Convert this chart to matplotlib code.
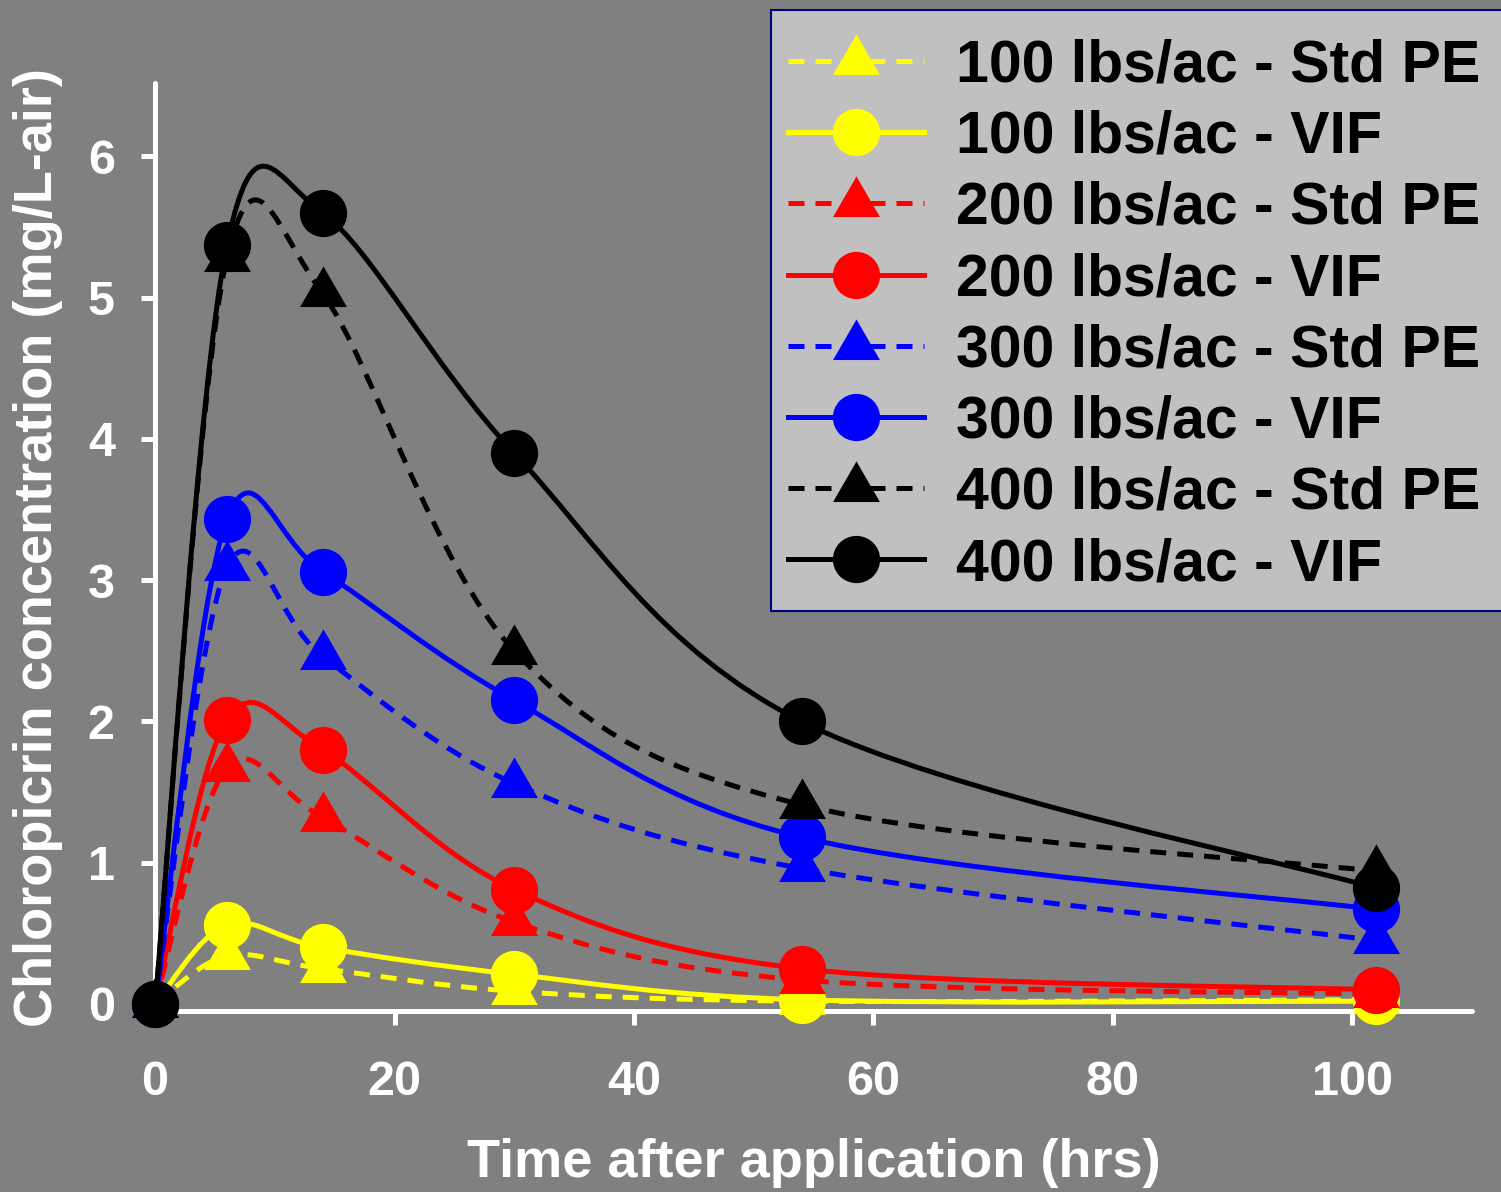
import numpy as np
import matplotlib
matplotlib.use("Agg")
from matplotlib import pyplot as plt
from matplotlib.path import Path
from matplotlib.patches import PathPatch, Rectangle
from matplotlib.lines import Line2D

# sampling times (hrs)
hours = [0, 6, 14, 30, 54, 102]

# chloropicrin concentration (mg/L-air)
std_100 = [0, 0.34, 0.25, 0.09, 0.02, 0.03]
vif_100 = [0, 0.56, 0.40, 0.21, 0.03, 0.02]
std_200 = [0, 1.67, 1.32, 0.58, 0.17, 0.07]
vif_200 = [0, 2.01, 1.80, 0.81, 0.25, 0.10]
std_300 = [0, 3.09, 2.46, 1.56, 0.96, 0.45]
vif_300 = [0, 3.43, 3.06, 2.15, 1.18, 0.67]
std_400 = [0, 5.28, 5.03, 2.50, 1.41, 0.94]
vif_400 = [0, 5.37, 5.60, 3.90, 2.00, 0.82]

labels = ["100 lbs/ac - Std PE", "100 lbs/ac - VIF",
          "200 lbs/ac - Std PE", "200 lbs/ac - VIF",
          "300 lbs/ac - Std PE", "300 lbs/ac - VIF",
          "400 lbs/ac - Std PE", "400 lbs/ac - VIF"]
series = [std_100, vif_100, std_200, vif_200, std_300, vif_300, std_400, vif_400]
colors = ["#ffff00", "#ffff00", "#ff0000", "#ff0000",
          "#0000ff", "#0000ff", "#000000", "#000000"]

BG = "#808080"
DASH = (0, (3.2, 2.2))
LW = 3.6

# equilateral triangle, centred on its centroid
TRI = [(-1.0, -0.577), (1.0, -0.577), (0.0, 1.155), (-1.0, -0.577)]


def smooth_path(xs, ys):
    """Catmull-Rom style bezier through the data points (smoothed line)"""
    pts = np.column_stack([xs, ys]).astype(float)
    n = len(pts)
    verts = [pts[0]]
    codes = [Path.MOVETO]
    for i in range(n - 1):
        p0 = pts[i - 1] if i > 0 else pts[i]
        p1 = pts[i]
        p2 = pts[i + 1]
        p3 = pts[i + 2] if i + 2 < n else pts[i + 1]
        verts += [p1 + (p2 - p0) / 6, p2 - (p3 - p1) / 6, p2]
        codes += [Path.CURVE4] * 3
    return Path(verts, codes)


plt.rcParams["font.family"] = ["Liberation Sans", "DejaVu Sans"]
plt.rcParams["font.weight"] = "bold"

fig = plt.figure(figsize=(15.01, 11.92), dpi=100, facecolor=BG)
ax = fig.add_axes([0.1033, 0.1518, 0.8774, 0.7786])
ax.set_facecolor("none")

handles = []
for k, (vals, col, lab) in enumerate(zip(series, colors, labels)):
    is_std = "Std" in lab
    ls = DASH if is_std else "-"
    marker = TRI if is_std else "o"
    ms = 39 if is_std else 34
    patch = PathPatch(smooth_path(hours, vals), facecolor="none", edgecolor=col,
                      lw=LW, linestyle=ls, capstyle="butt", zorder=2 + 2 * k)
    ax.add_patch(patch)
    ax.plot(hours, vals, linestyle="none", marker=marker, ms=ms, mfc=col,
            mec=col, mew=0, zorder=3 + 2 * k, clip_on=False)
    handles.append(Line2D([], [], color=col, lw=LW, linestyle=ls, marker=marker,
                          ms=ms, mfc=col, mec=col, mew=0, dash_capstyle="butt"))

ax.set_xlim(0, 110)
ax.set_ylim(-0.05, 6.52)
ax.set_xticks([0, 20, 40, 60, 80, 100])
ax.set_yticks([0, 1, 2, 3, 4, 5, 6])

for side in ("top", "right"):
    ax.spines[side].set_visible(False)
for side in ("left", "bottom"):
    ax.spines[side].set_color("white")
    ax.spines[side].set_linewidth(3.6)
    ax.spines[side].set_capstyle("round")

ax.tick_params(axis="both", colors="white", width=3.6, length=10,
               labelsize=35, direction="out")
ax.tick_params(axis="y", pad=19)
ax.tick_params(axis="x", pad=25)
for t in ax.get_xticklabels() + ax.get_yticklabels():
    t.set_fontweight("bold")

ax.set_xlabel("Time after application (hrs)", fontsize=39, fontweight="bold",
              color="white", labelpad=24)
ax.set_ylabel("Chloropicrin concentration (mg/L-air)", fontsize=39,
              fontweight="bold", color="white", labelpad=18)

# legend box (frame drawn separately so rows can keep the original spacing)
fig.patches.append(Rectangle((0.5137, 0.4874), 0.49, 0.5042,
                             transform=fig.transFigure, facecolor="#c0c0c0",
                             edgecolor="#000080", lw=1.5, zorder=20))
leg = fig.legend(handles, labels, loc="upper left",
                 bbox_to_anchor=(0.525, 0.9677), bbox_transform=fig.transFigure,
                 fontsize=42.5, numpoints=1, handlelength=2.3, handletextpad=0.55,
                 labelspacing=0.275, borderpad=0, borderaxespad=0,
                 frameon=False)
leg.set_zorder(21)
for t in leg.get_texts():
    t.set_fontweight("bold")
    t.set_color("black")

fig.savefig("out.png", dpi=100, facecolor=BG)
